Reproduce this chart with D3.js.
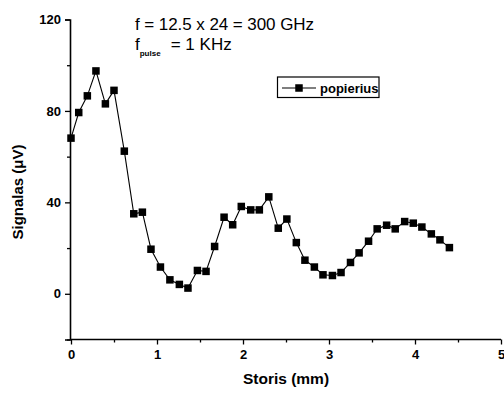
<!DOCTYPE html>
<html><head><meta charset="utf-8">
<script src="https://cdn.jsdelivr.net/npm/d3@7"></script>
<style>
html,body{margin:0;padding:0;background:#fff;}
svg{display:block;font-family:"Liberation Sans",Arial,sans-serif;}
</style></head>
<body>
<script>
const xValues = [0, 0.09, 0.19, 0.29, 0.40, 0.50, 0.62, 0.73, 0.83, 0.93, 1.04, 1.15, 1.26, 1.36, 1.47, 1.57, 1.67, 1.78, 1.88, 1.98, 2.09, 2.19, 2.30, 2.41, 2.51, 2.62, 2.72, 2.83, 2.93, 3.04, 3.14, 3.25, 3.35, 3.46, 3.56, 3.67, 3.77, 3.88, 3.98, 4.08, 4.19, 4.29, 4.40];
const signal = [68.1, 79.3, 86.6, 97.5, 83.1, 89.0, 62.4, 35.0, 35.7, 19.5, 11.7, 6.1, 4.1, 2.5, 10.2, 9.8, 20.7, 33.5, 30.2, 38.2, 36.7, 36.7, 42.4, 28.7, 32.7, 22.4, 14.7, 11.7, 8.3, 8.0, 9.3, 13.7, 17.9, 23.0, 28.4, 30.0, 28.4, 31.6, 30.9, 29.2, 26.2, 23.6, 20.2];
const xTicks = [0, 1, 2, 3, 4, 5];
const xMinorTicks = [0.5, 1.5, 2.5, 3.5, 4.5];
const yTicks = [0, 40, 80, 120];
const yMinorTicks = [-20, 20, 60, 100];
const seriesName = "popierius";
const xTitle = "Storis (mm)";
const yTitle = "Signalas (\u03bcV)";

const W = 504, H = 394;
const svg = d3.select("body").append("svg").attr("width", W).attr("height", H);

const x = d3.scaleLinear().domain([0, 5]).range([71, 501]);
const y = d3.scaleLinear().domain([-20, 120]).range([339.5, 19.5]);

// X axis
const xAxisG = svg.append("g").attr("transform", `translate(0,${y(-20)})`);
xAxisG.call(d3.axisBottom(x).tickValues(xTicks).tickFormat(d3.format("d")).tickSizeOuter(0).tickSize(5).tickPadding(5));
xAxisG.append("g").call(d3.axisBottom(x).tickValues(xMinorTicks).tickFormat("").tickSizeOuter(0).tickSize(3))
  .select(".domain").remove();
xAxisG.selectAll(".domain").attr("stroke-width", 1.6).attr("d", `M${x(0)-1},0H${x(5)}`);
xAxisG.selectAll(".tick line").attr("stroke-width", 1.3);
xAxisG.selectAll(".tick text").attr("font-size", 13).attr("font-weight", "bold").attr("fill", "#000")
  .attr("font-family", "Liberation Sans, Arial, sans-serif");

// Y axis
const yAxisG = svg.append("g").attr("transform", `translate(${x(0)-1},0)`);
yAxisG.call(d3.axisLeft(y).tickValues(yTicks).tickFormat(d3.format("d")).tickSizeOuter(0).tickSize(5).tickPadding(4));
yAxisG.append("g").call(d3.axisLeft(y).tickValues(yMinorTicks).tickFormat("").tickSizeOuter(0).tickSize(3))
  .select(".domain").remove();
yAxisG.selectAll(".domain").attr("stroke-width", 1.6);
yAxisG.selectAll(".tick line").attr("stroke-width", 1.3);
yAxisG.selectAll(".tick text").attr("font-size", 13).attr("font-weight", "bold").attr("fill", "#000")
  .attr("font-family", "Liberation Sans, Arial, sans-serif");

// Titles
svg.append("text").attr("x", 286).attr("y", 384).attr("text-anchor", "middle")
  .attr("font-size", 15.5).attr("font-weight", "bold").text(xTitle);
svg.append("text").attr("transform", "translate(23,192) rotate(-90)").attr("text-anchor", "middle")
  .attr("font-size", 15).attr("font-weight", "bold").text(yTitle);

// Annotations
svg.append("text").attr("x", 135).attr("y", 30).attr("font-size", 17)
  .attr("textLength", 179).attr("lengthAdjust", "spacing").text("f = 12.5 x 24 = 300 GHz");
const t2 = svg.append("text").attr("x", 135).attr("y", 50).attr("font-size", 17);
t2.append("tspan").text("f");
t2.append("tspan").attr("font-size", 8).attr("font-weight", "bold").attr("dy", 6).text("pulse");
t2.append("tspan").attr("dy", -6).attr("x", 166).text(" = 1 KHz");

// Data line + markers
const pts = xValues.map((v, i) => [v, signal[i]]);
svg.append("path").datum(pts)
  .attr("fill", "none").attr("stroke", "#000").attr("stroke-width", 1.1)
  .attr("d", d3.line().x(d => x(d[0])).y(d => y(d[1])));
const ms = 7.5;
svg.append("g").selectAll("rect").data(pts).join("rect")
  .attr("x", d => x(d[0]) - ms/2).attr("y", d => y(d[1]) - ms/2)
  .attr("width", ms).attr("height", ms).attr("fill", "#000");

// Legend
const lg = svg.append("g");
lg.append("rect").attr("x", 277.5).attr("y", 77).attr("width", 101.5).attr("height", 20.5)
  .attr("fill", "#fff").attr("stroke", "#000").attr("stroke-width", 1.2);
lg.append("line").attr("x1", 282).attr("x2", 316).attr("y1", 88).attr("y2", 88).attr("stroke", "#000").attr("stroke-width", 1.2);
lg.append("rect").attr("x", 299 - ms/2).attr("y", 88 - ms/2).attr("width", ms).attr("height", ms).attr("fill", "#000");
lg.append("text").attr("x", 320).attr("y", 92.5).attr("font-size", 13).attr("font-weight", "bold").text(seriesName);
</script>
</body></html>
